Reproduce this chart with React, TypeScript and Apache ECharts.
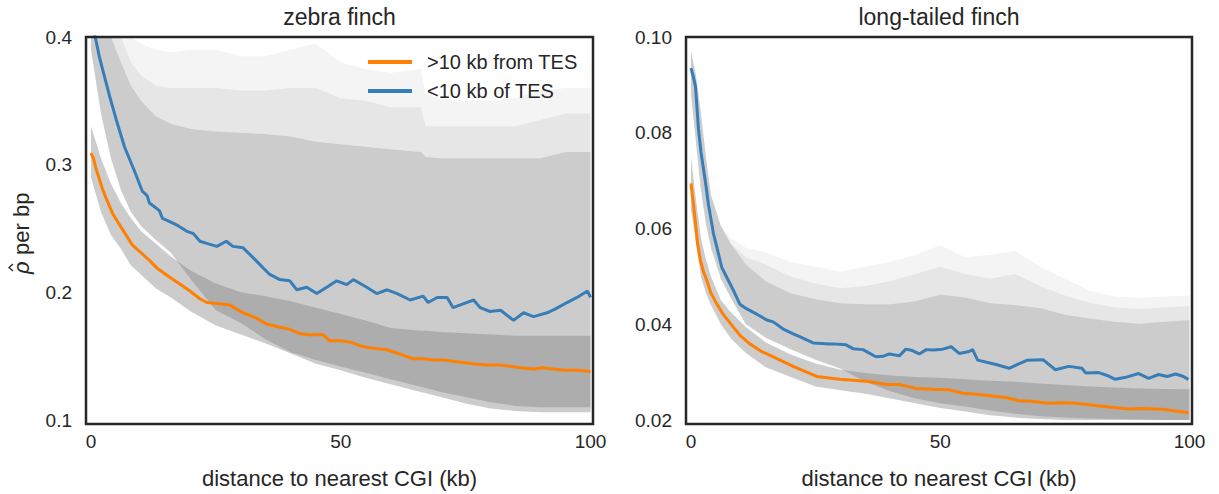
import React, { useEffect, useRef } from 'react';
import * as echarts from 'echarts';

// ---------- tick labels ----------
const xTicks = [0, 50, 100];
const zfYTicks = [0.1, 0.2, 0.3, 0.4];
const ltYTicks = [0.02, 0.04, 0.06, 0.08, 0.1];

const titles = ['zebra finch', 'long-tailed finch'];
const seriesNames = ['>10 kb from TES', '<10 kb of TES'];
const xName = 'distance to nearest CGI (kb)';
const yNameSymbol = '\u03C1';
const yNameRest = ' per bp';

// ---------- zebra finch lines ----------
const zfFarX = [0, 0.5, 1, 2.3, 3, 4.3, 5.7, 7, 8.3, 10, 11.7, 13.5, 15.7, 18, 19.8, 21.8, 23.2, 25.8, 27.8, 30.4, 33, 35.2, 37.5, 39.8, 42, 43.8, 46.5, 47.8, 50, 51.9, 54, 55.2, 57, 59.3, 61.6, 63, 64.5, 66.5, 68.5, 70.5, 72.5, 74.5, 76.5, 79, 82, 84, 86, 88.6, 90.5, 92.6, 95, 97.5, 100];
const zfFarY = [0.309, 0.305, 0.297, 0.281, 0.274, 0.262, 0.253, 0.245, 0.237, 0.231, 0.225, 0.218, 0.212, 0.206, 0.201, 0.195, 0.192, 0.191, 0.19, 0.184, 0.18, 0.175, 0.173, 0.171, 0.1675, 0.1667, 0.1667, 0.162, 0.162, 0.161, 0.158, 0.157, 0.156, 0.155, 0.152, 0.15, 0.148, 0.148, 0.147, 0.147, 0.146, 0.145, 0.144, 0.143, 0.143, 0.142, 0.141, 0.14, 0.141, 0.14, 0.139, 0.139, 0.138];

const zfNearX = [0, 0.9, 1.7, 2.5, 3.7, 5, 6.7, 8.7, 10.3, 11.2, 11.7, 13.7, 14.3, 16, 17.5, 19.1, 20.5, 21.8, 23.5, 25.2, 27.1, 28.4, 30.4, 32.5, 34.5, 35.8, 37.8, 39.8, 41.2, 43.2, 45.2, 47.2, 49.2, 51.2, 52.5, 55.2, 57.2, 59.3, 61.3, 63.9, 66.5, 67.5, 69.3, 71.3, 72.5, 74.5, 76.6, 77.9, 79.9, 82, 84.6, 86.6, 88.6, 91.3, 93, 95.3, 97.3, 99.4, 100];
const zfNearY = [0.415, 0.399, 0.384, 0.372, 0.354, 0.336, 0.314, 0.295, 0.279, 0.276, 0.27, 0.264, 0.258, 0.255, 0.252, 0.248, 0.246, 0.24, 0.238, 0.236, 0.24, 0.236, 0.235, 0.227, 0.219, 0.214, 0.21, 0.209, 0.202, 0.204, 0.199, 0.204, 0.209, 0.206, 0.21, 0.204, 0.199, 0.202, 0.199, 0.194, 0.197, 0.192, 0.196, 0.196, 0.188, 0.191, 0.194, 0.188, 0.185, 0.186, 0.178, 0.184, 0.181, 0.184, 0.187, 0.192, 0.196, 0.201, 0.196];

// ---------- zebra finch bands ----------
const zfBandX = [0, 2, 4, 6, 8, 10, 13, 16, 20, 25, 30, 35, 40, 45, 50, 55, 60, 66, 67, 70, 75, 80, 85, 90, 95, 100];
const zfFarLo = [0.29, 0.263, 0.245, 0.234, 0.221, 0.214, 0.203, 0.196, 0.185, 0.174, 0.167, 0.16, 0.152, 0.144, 0.139, 0.133, 0.128, 0.122, 0.121, 0.118, 0.113, 0.109, 0.107, 0.106, 0.106, 0.106];
const zfFarHi = [0.33, 0.305, 0.285, 0.27, 0.258, 0.248, 0.238, 0.228, 0.217, 0.207, 0.2, 0.197, 0.193, 0.188, 0.183, 0.178, 0.172, 0.17, 0.17, 0.169, 0.168, 0.167, 0.166, 0.166, 0.166, 0.166];
const zfNearLo = [0.39, 0.34, 0.305, 0.28, 0.263, 0.252, 0.241, 0.231, 0.21, 0.186, 0.176, 0.163, 0.153, 0.147, 0.142, 0.137, 0.132, 0.126, 0.125, 0.122, 0.118, 0.114, 0.111, 0.11, 0.11, 0.11];
const zfNearHi = [0.46, 0.44, 0.41, 0.38, 0.362, 0.35, 0.338, 0.332, 0.328, 0.326, 0.325, 0.324, 0.322, 0.318, 0.316, 0.314, 0.312, 0.31, 0.306, 0.305, 0.305, 0.305, 0.305, 0.305, 0.31, 0.31];
const zfNearFuzzMid = [0.46, 0.44, 0.42, 0.4, 0.38, 0.37, 0.362, 0.36, 0.36, 0.36, 0.358, 0.358, 0.36, 0.36, 0.352, 0.35, 0.345, 0.345, 0.33, 0.33, 0.33, 0.33, 0.33, 0.335, 0.34, 0.34];
const zfNearFuzzTop = [0.46, 0.44, 0.43, 0.42, 0.405, 0.395, 0.39, 0.388, 0.39, 0.39, 0.385, 0.385, 0.39, 0.395, 0.38, 0.375, 0.372, 0.375, 0.355, 0.352, 0.35, 0.35, 0.352, 0.358, 0.36, 0.36];

// ---------- long-tailed finch lines ----------
const ltFarX = [0, 0.5, 0.9, 1.3, 1.9, 2.5, 3.2, 4, 5.2, 6.5, 8.5, 10, 11.8, 14, 16.5, 20.5, 25.2, 29.8, 35.2, 39.2, 41.8, 45.1, 48.5, 51.8, 54.5, 57.2, 60.5, 63.2, 65.8, 68.5, 71.5, 74.5, 77.2, 79.8, 83.8, 87.8, 90.5, 93.2, 95.1, 97.2, 99.8];
const ltFarY = [0.0694, 0.065, 0.0612, 0.057, 0.0533, 0.051, 0.0491, 0.0465, 0.0442, 0.042, 0.0394, 0.0375, 0.0359, 0.0344, 0.0332, 0.0312, 0.0291, 0.0285, 0.0281, 0.0274, 0.0274, 0.0266, 0.0264, 0.0263, 0.0256, 0.0254, 0.025, 0.0247, 0.024, 0.0239, 0.0235, 0.0236, 0.0235, 0.0232, 0.0227, 0.0223, 0.0224, 0.0223, 0.0222, 0.0219, 0.0215];

const ltNearX = [0, 0.4, 0.9, 1.5, 2, 2.5, 3, 3.5, 4.5, 6.2, 8.5, 9.8, 11.2, 13.2, 15.2, 16.5, 18.5, 20.5, 21.8, 24.5, 27.8, 28.5, 31.1, 32.5, 34.5, 37.1, 38.5, 39.8, 41.8, 43.1, 44.4, 45.8, 47.2, 48.5, 50.5, 52.2, 53.8, 55.8, 56.5, 57.5, 59.5, 61.2, 63.8, 65.5, 67.5, 70.6, 73.1, 75.8, 78.4, 79.2, 81.8, 83.5, 85.1, 87.5, 89.8, 91.8, 93.8, 95.5, 97.2, 98.5, 99.8];
const ltNearY = [0.0935, 0.092, 0.0897, 0.0808, 0.076, 0.0725, 0.069, 0.065, 0.059, 0.0518, 0.0471, 0.0442, 0.0432, 0.0421, 0.0409, 0.0405, 0.039, 0.038, 0.0374, 0.0361, 0.0359, 0.0359, 0.0357, 0.0349, 0.0347, 0.0332, 0.0333, 0.0338, 0.0334, 0.0348, 0.0345, 0.0338, 0.0347, 0.0346, 0.0348, 0.0353, 0.0339, 0.0343, 0.0347, 0.0325, 0.032, 0.0316, 0.0308, 0.0316, 0.0325, 0.0326, 0.0305, 0.0312, 0.0308, 0.0298, 0.0299, 0.0293, 0.0285, 0.029, 0.0297, 0.0287, 0.0295, 0.0291, 0.0296, 0.0292, 0.0285];

// ---------- long-tailed finch bands ----------
const ltBandX = [0, 1, 2, 3, 4, 6, 8, 11, 15, 20, 25, 30, 35, 40, 45, 50, 55, 60, 65, 70, 75, 80, 85, 90, 95, 100];
const ltFarLo = [0.064, 0.057, 0.05, 0.0465, 0.044, 0.04, 0.037, 0.034, 0.031, 0.029, 0.027, 0.0262, 0.0255, 0.0245, 0.0235, 0.0225, 0.0218, 0.021, 0.0205, 0.0202, 0.02, 0.0199, 0.0198, 0.0198, 0.0198, 0.0198];
const ltFarHi = [0.075, 0.066, 0.058, 0.0535, 0.05, 0.045, 0.0425, 0.0394, 0.0362, 0.0337, 0.0318, 0.0305, 0.0298, 0.0293, 0.029, 0.0288, 0.0285, 0.0282, 0.028, 0.0276, 0.0273, 0.027, 0.0268, 0.0266, 0.0265, 0.0264];
const ltNearLo = [0.088, 0.078, 0.068, 0.061, 0.056, 0.0495, 0.0455, 0.04, 0.0372, 0.0348, 0.0326, 0.0307, 0.028, 0.026, 0.0245, 0.0235, 0.0228, 0.022, 0.0213, 0.0208, 0.0205, 0.0203, 0.0202, 0.0201, 0.02, 0.02];
const ltNearHi = [0.097, 0.092, 0.084, 0.075, 0.067, 0.0605, 0.0568, 0.0525, 0.049, 0.0465, 0.0452, 0.0444, 0.0442, 0.0442, 0.0448, 0.0462, 0.0456, 0.0444, 0.044, 0.0434, 0.042, 0.0412, 0.0405, 0.0401, 0.0405, 0.0409];
const ltNearFuzzMid = [0.097, 0.092, 0.084, 0.075, 0.067, 0.0605, 0.0568, 0.054, 0.0525, 0.05, 0.0485, 0.0475, 0.048, 0.049, 0.0505, 0.052, 0.0505, 0.0495, 0.0505, 0.048, 0.046, 0.0445, 0.0435, 0.0432, 0.0435, 0.0438];
const ltNearFuzzTop = [0.097, 0.092, 0.084, 0.075, 0.067, 0.0605, 0.058, 0.056, 0.055, 0.053, 0.052, 0.051, 0.052, 0.053, 0.0545, 0.0565, 0.054, 0.0545, 0.0553, 0.052, 0.0495, 0.047, 0.0458, 0.0455, 0.0458, 0.046];

// ---------- styling ----------
const FONT = "'Liberation Sans', Arial, Helvetica, sans-serif";
const TEXT = '#262626';
const ORANGE = '#ff7f00';
const BLUE = '#377eb8';
const BAND = 'rgba(128,128,128,0.4)';
const FUZZ1 = 'rgba(128,128,128,0.2)';
const FUZZ2 = 'rgba(128,128,128,0.09)';

const grids = [
  { left: 86, top: 37, width: 507, height: 387 },
  { left: 686, top: 37, width: 506, height: 387 },
];

function bandPolygon(gi: number, xs: number[], lo: number[], hi: number[], color: string, yMin: number, yMax: number) {
  const clamp = (v: number) => Math.min(yMax, Math.max(yMin, v));
  return {
    type: 'custom', xAxisIndex: gi, yAxisIndex: gi, silent: true, clip: true, z: 1,
    data: [[xs[0], lo[0]]],
    renderItem: (_params: any, api: any) => {
      const pts: number[][] = [];
      for (let i = 0; i < xs.length; i++) pts.push(api.coord([xs[i], clamp(hi[i])]));
      for (let i = xs.length - 1; i >= 0; i--) pts.push(api.coord([xs[i], clamp(lo[i])]));
      return { type: 'polygon', shape: { points: pts }, style: { fill: color }, silent: true };
    },
  };
}

function lineSeries(name: string, gi: number, xs: number[], ys: number[], color: string) {
  return {
    type: 'line', name, xAxisIndex: gi, yAxisIndex: gi,
    data: xs.map((x, i) => [x, ys[i]]), symbol: 'none', showSymbol: false,
    lineStyle: { width: 3, color }, itemStyle: { color }, z: 5,
  };
}

function xAxis(gi: number) {
  return {
    type: 'value', gridIndex: gi, min: -1, max: 100.5, splitNumber: 2,
    axisLine: { show: false }, axisTick: { show: false }, splitLine: { show: false },
    axisLabel: {
      customValues: xTicks, color: TEXT, fontSize: 19, fontFamily: FONT, margin: 12,
      formatter: (v: number) => (xTicks.includes(v) ? String(v) : ''),
    },
    name: xName, nameLocation: 'middle', nameGap: 47,
    nameTextStyle: { color: TEXT, fontSize: 22, fontFamily: FONT },
  };
}

function yAxis(gi: number, ticks: number[], digits: number) {
  const step = ticks[1] - ticks[0];
  return {
    type: 'value', gridIndex: gi, min: ticks[0], max: ticks[ticks.length - 1], interval: step,
    axisLine: { show: false }, axisTick: { show: false }, splitLine: { show: false },
    axisLabel: {
      customValues: ticks, color: TEXT, fontSize: 19, fontFamily: FONT, margin: 14,
      formatter: (v: number) => v.toFixed(digits),
    },
  };
}

export default function App() {
  const ref = useRef<HTMLDivElement>(null);
  useEffect(() => {
    if (!ref.current) return;
    const chart = echarts.init(ref.current, null, { renderer: 'svg' });
    const series: any[] = [
      bandPolygon(0, zfBandX, zfFarLo, zfFarHi, BAND, 0.1, 0.4),
      bandPolygon(0, zfBandX, zfNearLo, zfNearHi, BAND, 0.1, 0.4),
      bandPolygon(0, zfBandX, zfNearHi, zfNearFuzzMid, FUZZ1, 0.1, 0.4),
      bandPolygon(0, zfBandX, zfNearFuzzMid, zfNearFuzzTop, FUZZ2, 0.1, 0.4),
      bandPolygon(1, ltBandX, ltFarLo, ltFarHi, BAND, 0.02, 0.1),
      bandPolygon(1, ltBandX, ltNearLo, ltNearHi, BAND, 0.02, 0.1),
      bandPolygon(1, ltBandX, ltNearHi, ltNearFuzzMid, FUZZ1, 0.02, 0.1),
      bandPolygon(1, ltBandX, ltNearFuzzMid, ltNearFuzzTop, FUZZ2, 0.02, 0.1),
      lineSeries(seriesNames[0], 0, zfFarX, zfFarY, ORANGE),
      lineSeries(seriesNames[1], 0, zfNearX, zfNearY, BLUE),
      lineSeries(seriesNames[0], 1, ltFarX, ltFarY, ORANGE),
      lineSeries(seriesNames[1], 1, ltNearX, ltNearY, BLUE),
    ];
    const graphic: any[] = [];
    grids.forEach((g, i) => {
      graphic.push({
        type: 'rect', z: 100, silent: true,
        shape: { x: g.left, y: g.top, width: g.width, height: g.height },
        style: { fill: 'none', stroke: TEXT, lineWidth: 2.5 },
      });
      graphic.push({
        type: 'text', z: 100, silent: true,
        x: g.left + g.width / 2, y: 17,
        style: { text: titles[i], fill: TEXT, font: `23px ${FONT}`, align: 'center', verticalAlign: 'middle' },
      });
    });
    // rotated y-axis name: rho with a hat, then " per bp"
    graphic.push({
      type: 'group', x: 21, y: 232, rotation: Math.PI / 2, silent: true, z: 100,
      children: [
        { type: 'text', x: -42, y: 0, style: { text: yNameSymbol, fill: TEXT, font: `italic 22px ${FONT}`, align: 'left', verticalAlign: 'middle' } },
        { type: 'polyline', shape: { points: [[-39, -8], [-35.5, -12], [-32, -8]] }, style: { stroke: TEXT, lineWidth: 1.3, fill: 'none' } },
        { type: 'text', x: -29, y: 0, style: { text: yNameRest, fill: TEXT, font: `22px ${FONT}`, align: 'left', verticalAlign: 'middle' } },
      ],
    });
    chart.setOption({
      animation: false,
      textStyle: { fontFamily: FONT },
      grid: grids.map((g) => ({ ...g, containLabel: false })),
      xAxis: [xAxis(0), xAxis(1)],
      yAxis: [yAxis(0, zfYTicks, 1), yAxis(1, ltYTicks, 2)],
      legend: {
        data: seriesNames, left: 368, top: 52, orient: 'vertical', padding: 0,
        icon: 'rect', itemWidth: 44, itemHeight: 4, itemGap: 9, selectedMode: false,
        textStyle: { color: TEXT, fontSize: 20, fontFamily: FONT, lineHeight: 20, padding: [0, 0, 0, 10] },
      },
      series,
      graphic,
    });
    return () => chart.dispose();
  }, []);
  return <div ref={ref} style={{ position: 'absolute', left: 0, top: 0, width: 1219, height: 494 }} />;
}
